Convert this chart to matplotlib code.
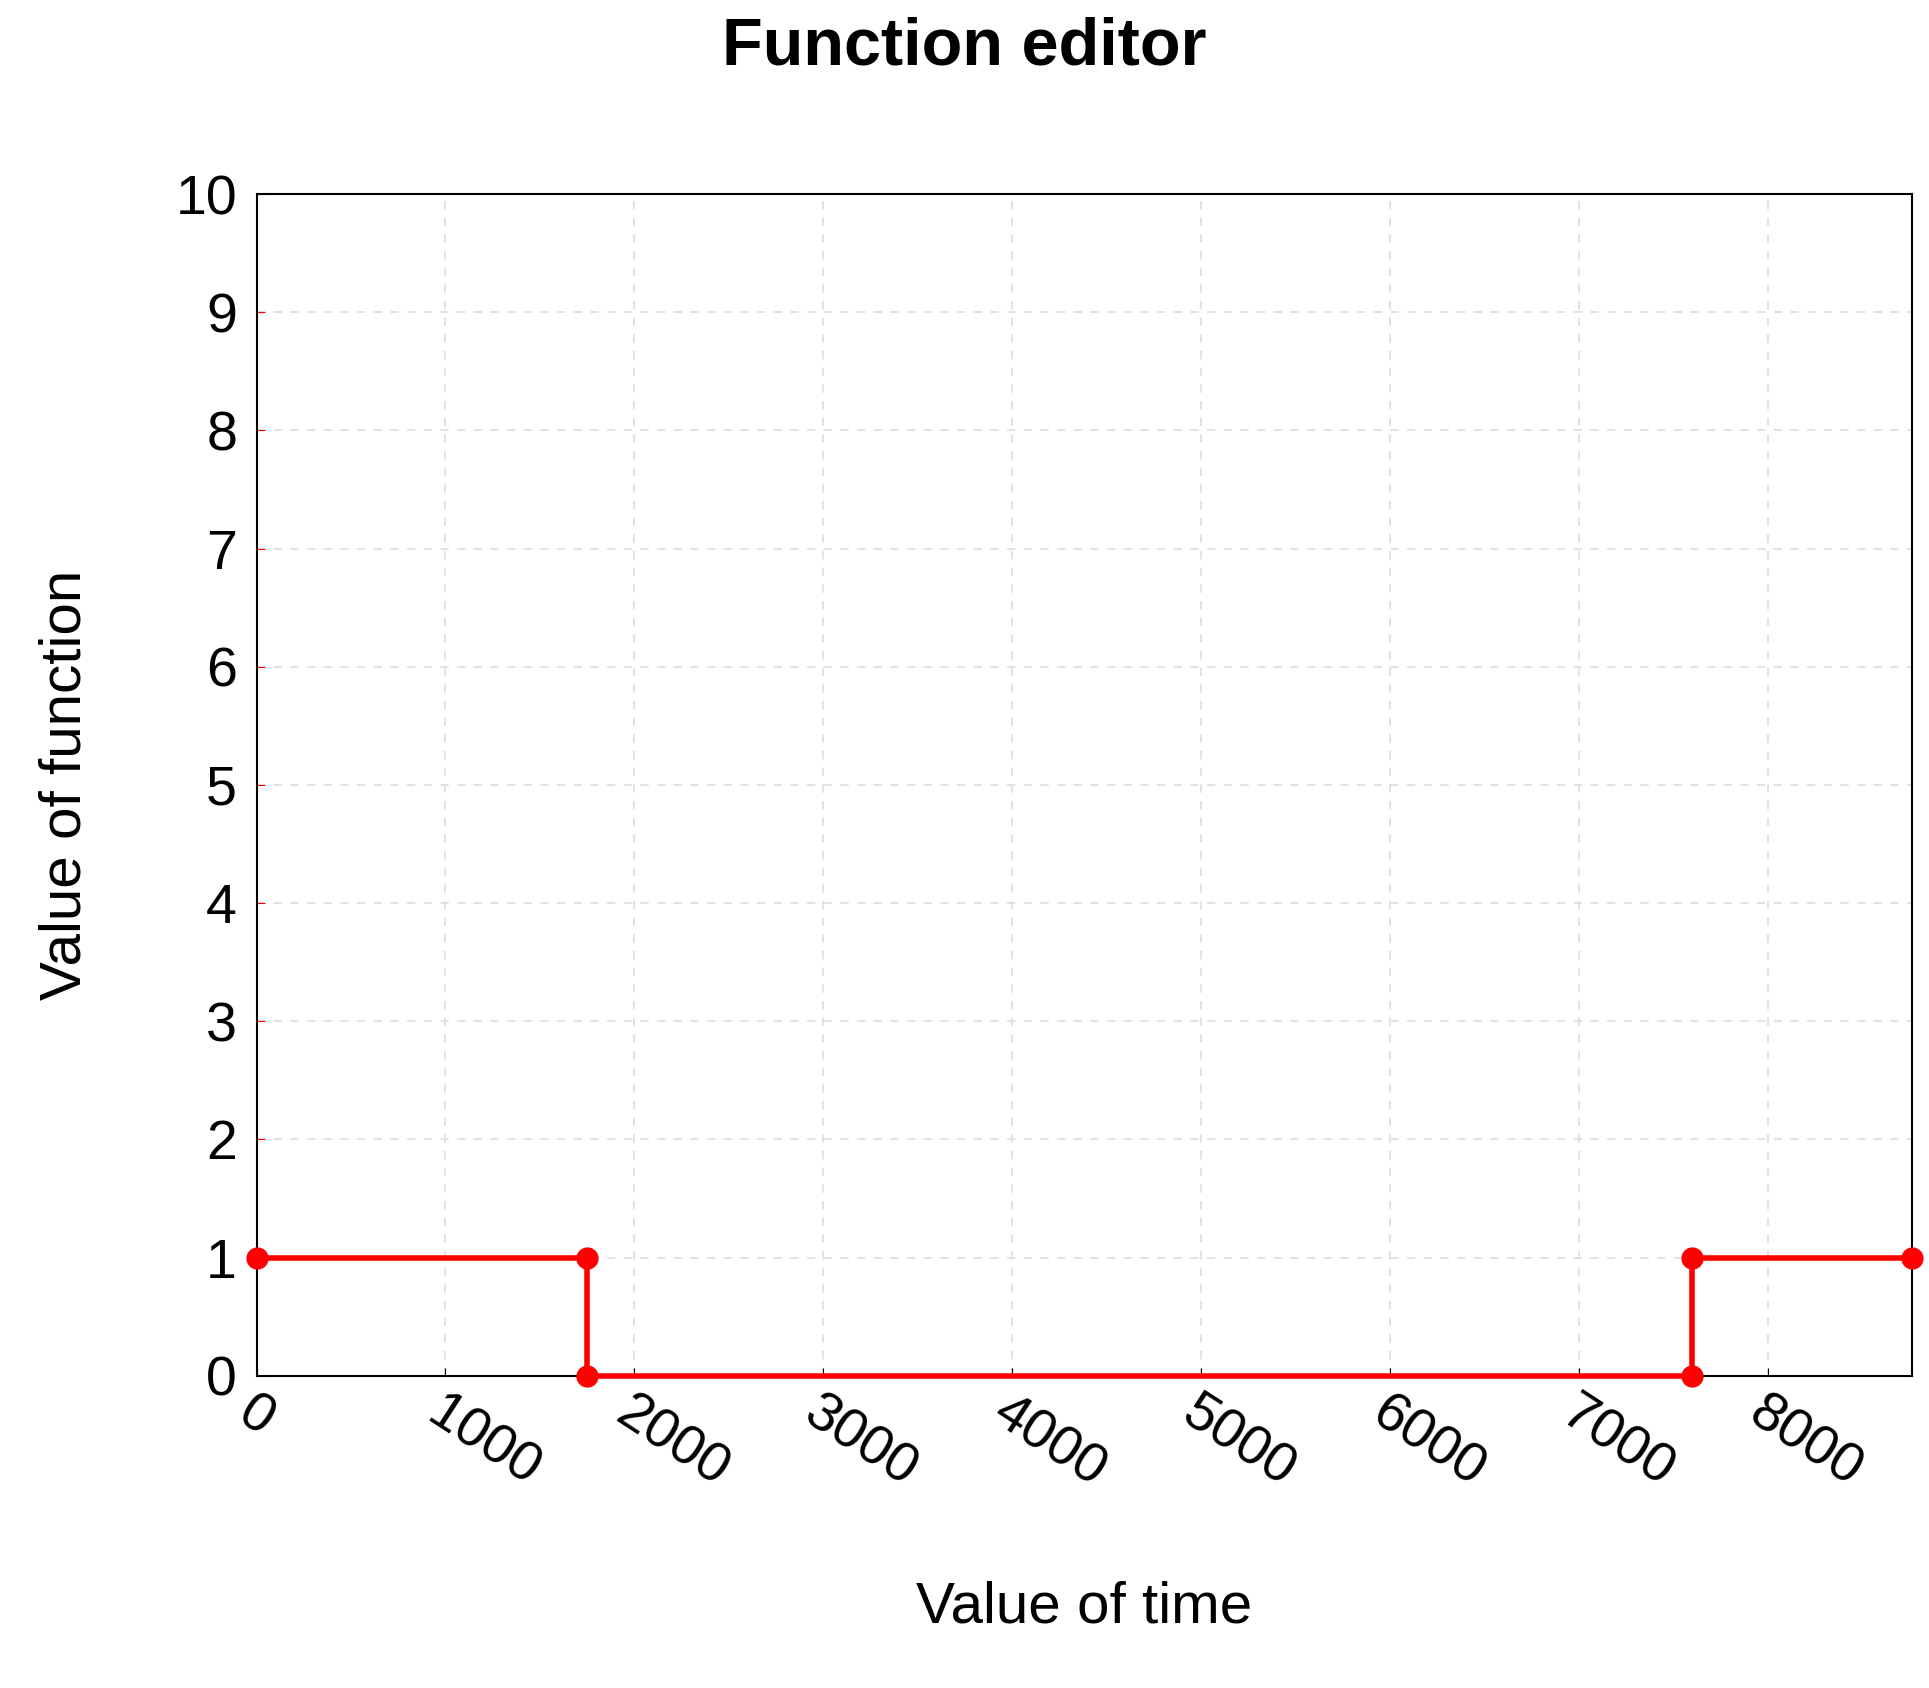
import matplotlib
matplotlib.use("Agg")
import matplotlib.pyplot as plt

plt.rcParams['font.family'] = ['Liberation Sans', 'DejaVu Sans']

t = [0, 1750, 1750, 7600, 7600, 8760]
f = [1, 1, 0, 0, 1, 1]

fig = plt.figure(figsize=(19.29, 16.88), dpi=100)
ax = fig.add_axes([0.133, 0.185, 0.858, 0.700])
ax.plot(t, f, color="red", lw=4, marker="o", ms=15, clip_on=False, zorder=3)
ax.set_xlim(0, 8760)
ax.set_ylim(0, 10)
ax.set_xticks(range(0, 9000, 1000))
ax.set_yticks(range(0, 11))
ax.grid(True, ls=(0, (5, 5)), color="#dddddd", lw=1.2)
ax.tick_params(axis="y", direction="in", length=6, color="red", labelsize=40, pad=14)
ax.tick_params(axis="x", direction="in", length=6, color="black", labelsize=40, pad=8)
for lbl in ax.get_xticklabels():
    lbl.set_rotation(-33)
    lbl.set_ha("left")
    lbl.set_va("top")
    lbl.set_rotation_mode("anchor")
for s in ax.spines.values():
    s.set_linewidth(1.5)
ax.set_xlabel("Value of time", fontsize=42, labelpad=60)
ax.set_ylabel("Value of function", fontsize=42, labelpad=60)
fig.suptitle("Function editor", fontsize=48, fontweight="bold", y=0.99)

fig.savefig("out.png", dpi=100)
